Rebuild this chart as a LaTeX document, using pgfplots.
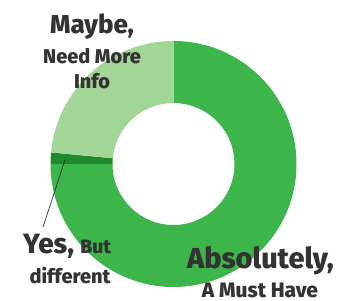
\documentclass[border=0pt]{standalone}
\usepackage{fontspec}
\setmainfont{Fira Sans}[BoldFont={Fira Sans ExtraBold}]
\usepackage{pgfplots}
\usepackage{pgfplotstable}
\pgfplotsset{compat=1.18}
\definecolor{cAbs}{HTML}{3CB64A}
\definecolor{cYes}{HTML}{1F8A2C}
\definecolor{cMay}{HTML}{A2D697}
\definecolor{txt}{HTML}{333333}
\pgfplotstableread{
label value
Absolutely 75
Yes 1.5
Maybe 23.5
}\piedata
\begin{document}
\begin{tikzpicture}
\pgfplotstablegetelem{0}{value}\of\piedata \let\vA\pgfplotsretval
\pgfplotstablegetelem{1}{value}\of\piedata \let\vB\pgfplotsretval
\pgfplotstablegetelem{2}{value}\of\piedata \let\vC\pgfplotsretval
\pgfmathsetmacro{\aA}{90}
\pgfmathsetmacro{\aB}{90-3.6*\vA}
\pgfmathsetmacro{\aC}{\aB-3.6*\vB}
\pgfmathsetmacro{\aD}{\aC-3.6*\vC}
\begin{axis}[hide axis, x=1bp, y=1bp, xmin=0, xmax=339, ymin=0, ymax=301,
  scale only axis, clip=false]
\path (axis cs:0,0) rectangle (axis cs:339,301);
\def\cx{173.5}\def\cy{137}
\fill[cAbs] (axis cs:\cx,\cy) ++(\aA:123bp) arc[start angle=\aA, end angle=\aB, radius=123bp] -- ++(\aB:-62bp) arc[start angle=\aB, end angle=\aA, radius=61bp] -- cycle;
\fill[cYes] (axis cs:\cx,\cy) ++(\aB:123bp) arc[start angle=\aB, end angle=\aC, radius=123bp] -- ++(\aC:-62bp) arc[start angle=\aC, end angle=\aB, radius=61bp] -- cycle;
\fill[cMay] (axis cs:\cx,\cy) ++(\aC:123bp) arc[start angle=\aC, end angle=\aD, radius=123bp] -- ++(\aD:-62bp) arc[start angle=\aD, end angle=\aC, radius=61bp] -- cycle;
\draw[txt, line width=0.7pt] (axis cs:43,74) -- (axis cs:65,141);
\begin{scope}[every node/.style={text=txt, font=\bfseries, inner sep=0pt}]
\node[anchor=base] at (axis cs:92,268) {\fontsize{26}{26}\selectfont Maybe,};
\node[anchor=base] at (axis cs:92,238) {\fontsize{20}{20}\selectfont Need More};
\node[anchor=base] at (axis cs:92,213) {\fontsize{20}{20}\selectfont Info};
\node[anchor=base west] at (axis cs:23,48) {\fontsize{28}{28}\selectfont Yes, \fontsize{19.5}{20}\selectfont But};
\node[anchor=base] at (axis cs:70,18) {\fontsize{20}{20}\selectfont different};
\node[anchor=base] at (axis cs:260.5,33) {\fontsize{29}{29}\selectfont Absolutely,};
\node[anchor=base] at (axis cs:260,4) {\fontsize{21}{21}\selectfont A Must Have};
\end{scope}
\end{axis}
\end{tikzpicture}
\end{document}
